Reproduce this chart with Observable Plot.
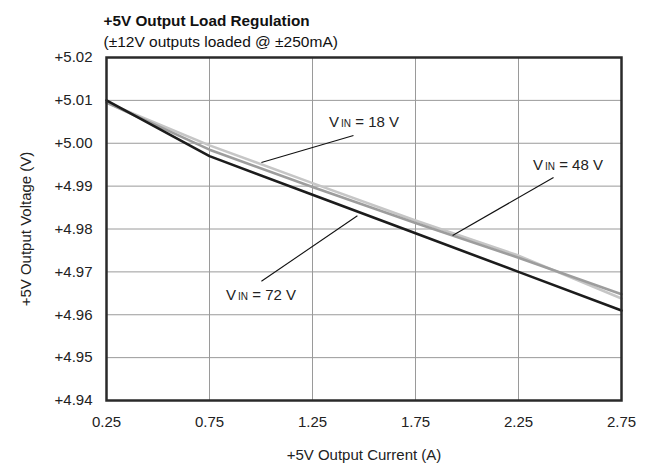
<!DOCTYPE html>
<html>
<head>
<meta charset="utf-8">
<script src="https://cdn.jsdelivr.net/npm/d3@7"></script>
<script src="https://cdn.jsdelivr.net/npm/@observablehq/plot@0.6"></script>
<style>
  html, body { margin: 0; padding: 0; background: #fff; }
  #chart { width: 646px; height: 466px; }
</style>
</head>
<body>
<div id="chart"></div>
<script>
// ---- data ----
const current = [0.25, 0.75, 1.25, 1.75, 2.25, 2.75];       // A
const vout18 = [5.0095, 4.9995, 4.9907, 4.9820, 4.9738, 4.9638];
const vout48 = [5.0095, 4.9985, 4.9898, 4.9814, 4.9733, 4.9648];
const vout72 = [5.0100, 4.9970, 4.9880, 4.9790, 4.9700, 4.9610];
const seriesNames = ["18", "48", "72"];
const seriesColors = ["#c6c6c6", "#9d9d9d", "#1c1c1c"];

const xTicks = [0.25, 0.75, 1.25, 1.75, 2.25, 2.75];
const yTicks = [4.94, 4.95, 4.96, 4.97, 4.98, 4.99, 5.00, 5.01, 5.02];

const titleText = "+5V Output Load Regulation";
const subtitleText = "(\u00B112V outputs loaded @ \u00B1250mA)";
const xTitle = "+5V Output Current (A)";
const yTitle = "+5V Output Voltage (V)";

// annotation labels and leader lines (data units)
const labelNames = ["18", "48", "72"];
const labelX = [1.50, 2.49, 1.00];
const labelY = [5.0048, 4.9950, 4.9645];
const leaderX1 = [1.002, 1.930, 1.002];
const leaderY1 = [4.9955, 4.9785, 4.9678];
const leaderX2 = [1.449, 2.420, 1.468];
const leaderY2 = [5.0018, 4.9920, 4.9831];

// ---- build tables ----
const allSeries = [vout18, vout48, vout72];
const rows = [];
seriesNames.forEach((s, i) => current.forEach((c, j) => rows.push({series: s, current: c, v: allSeries[i][j]})));
const labels = labelNames.map((n, i) => ({name: n, x: labelX[i], y: labelY[i]}));
const leaders = labelNames.map((n, i) => ({x1: leaderX1[i], y1: leaderY1[i], x2: leaderX2[i], y2: leaderY2[i]}));

const FONT = "'Liberation Sans', Arial, sans-serif";

const chart = Plot.plot({
  width: 646,
  height: 466,
  marginLeft: 106,
  marginRight: 25,
  marginTop: 57,
  marginBottom: 66,
  style: {fontFamily: FONT, fontSize: "15px", color: "#222", background: "#fff"},
  x: {domain: [0.25, 2.75]},
  y: {domain: [4.94, 5.02]},
  color: {domain: seriesNames, range: seriesColors},
  marks: [
    Plot.gridX(xTicks, {stroke: "#9a9a9a", strokeOpacity: 1, strokeWidth: 1}),
    Plot.gridY(yTicks, {stroke: "#9a9a9a", strokeOpacity: 1, strokeWidth: 1}),
    Plot.axisX({ticks: xTicks, tickSize: 0, tickPadding: 16, tickFormat: d => d.toFixed(2), label: null, fontSize: 15}),
    Plot.axisY({ticks: yTicks, tickSize: 0, tickPadding: 14, tickFormat: d => "+" + d.toFixed(2), label: null, fontSize: 15}),
    Plot.line(rows.filter(d => d.series === "18"), {x: "current", y: "v", stroke: "series", strokeWidth: 2.6}),
    Plot.line(rows.filter(d => d.series === "48"), {x: "current", y: "v", stroke: "series", strokeWidth: 2.6}),
    Plot.line(rows.filter(d => d.series === "72"), {x: "current", y: "v", stroke: "series", strokeWidth: 2.6}),
    Plot.link(leaders, {x1: "x1", y1: "y1", x2: "x2", y2: "y2", stroke: "#111", strokeWidth: 1.1}),
    Plot.text(labels, {x: "x", y: "y", text: d => "VIN = " + d.name + " V", fontSize: 15, fill: "#222", textAnchor: "middle"}),
    Plot.frame({stroke: "#2a2a2a", strokeWidth: 2.5}),
    Plot.text([titleText], {frameAnchor: "top-left", text: d => d, dx: -3, dy: -36, fontWeight: "bold", fontSize: 15.3, textAnchor: "start", lineAnchor: "middle", fill: "#111"}),
    Plot.text([subtitleText], {frameAnchor: "top-left", text: d => d, dx: -3, dy: -15.5, fontSize: 15.5, textAnchor: "start", lineAnchor: "middle", fill: "#111"}),
    Plot.text([xTitle], {frameAnchor: "bottom", text: d => d, dy: 55, fontSize: 15, textAnchor: "middle", lineAnchor: "middle", fill: "#222"}),
    Plot.text([yTitle], {frameAnchor: "left", text: d => d, dx: -80, rotate: -90, fontSize: 15, textAnchor: "middle", lineAnchor: "middle", fill: "#222"})
  ]
});

// render "VIN" with a small-caps style subscript, keeping real text
chart.querySelectorAll("text").forEach(t => {
  const s = t.textContent;
  if (s.startsWith("VIN = ")) {
    const rest = s.slice(3);
    while (t.firstChild) t.removeChild(t.firstChild);
    const ns = "http://www.w3.org/2000/svg";
    t.appendChild(document.createTextNode("V"));
    const sub = document.createElementNS(ns, "tspan");
    sub.setAttribute("font-size", "10");
    sub.setAttribute("dx", "2");
    sub.textContent = "IN";
    t.appendChild(sub);
    const r = document.createElementNS(ns, "tspan");
    r.setAttribute("font-size", "15");
    r.textContent = rest;
    t.appendChild(r);
  }
});

document.getElementById("chart").appendChild(chart);
</script>
</body>
</html>
